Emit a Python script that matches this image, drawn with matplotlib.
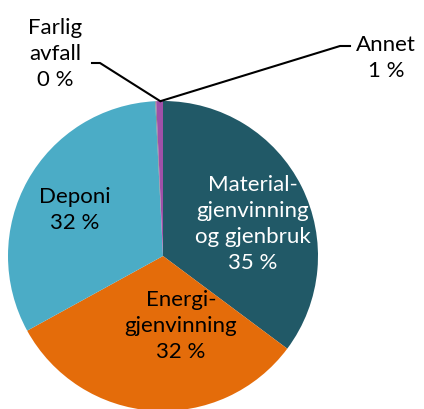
import matplotlib
matplotlib.use('Agg')
import matplotlib.pyplot as plt

# share of waste by treatment (percent), clockwise from 12 o'clock
labels = ['Material-\ngjenvinning\nog gjenbruk', 'Energi-\ngjenvinning', 'Deponi', 'Farlig\navfall', 'Annet']
values = [35.2, 31.8, 32.2, 0.1, 0.7]
shown = ['35 %', '32 %', '32 %', '0 %', '1 %']
colors = ['#215967', '#E46C0A', '#4BACC6', '#7F7F7F', '#A050A8']

plt.rcParams['font.family'] = ['Lato', 'DejaVu Sans']

fig = plt.figure(figsize=(4.24, 4.10), dpi=100)
ax = fig.add_axes([0, 0, 1, 1])

cx, cy, r = 163, 153, 155
ax.pie(values, colors=colors, startangle=90, counterclock=False,
       center=(cx, cy), radius=r, frame=True,
       wedgeprops=dict(linewidth=0))
ax.set_xlim(0, 424)
ax.set_ylim(0, 410)
ax.set_aspect('equal')
ax.axis('off')

fs = 16
ls = 1.38
ax.text(253, 410 - 224, labels[0] + '\n' + shown[0], color='white', fontsize=fs,
        ha='center', va='center', linespacing=ls)
ax.text(181, 410 - 326, labels[1] + '\n' + shown[1], color='black', fontsize=fs,
        ha='center', va='center', linespacing=ls)
ax.text(75, 410 - 210, labels[2] + '\n' + shown[2], color='black', fontsize=fs,
        ha='center', va='center', linespacing=ls)
ax.text(55, 410 - 54, labels[3] + '\n' + shown[3], color='black', fontsize=fs,
        ha='center', va='center', linespacing=ls)
ax.text(386, 410 - 58, labels[4] + '\n' + shown[4], color='black', fontsize=fs,
        ha='center', va='center', linespacing=ls)

# leader lines
ax.plot([92, 100, 160], [410 - 64, 410 - 64, 410 - 102], color='black', lw=1.5)
ax.plot([161, 340, 350], [410 - 102, 410 - 47, 410 - 47], color='black', lw=1.5)

fig.savefig('out.png', dpi=100)
